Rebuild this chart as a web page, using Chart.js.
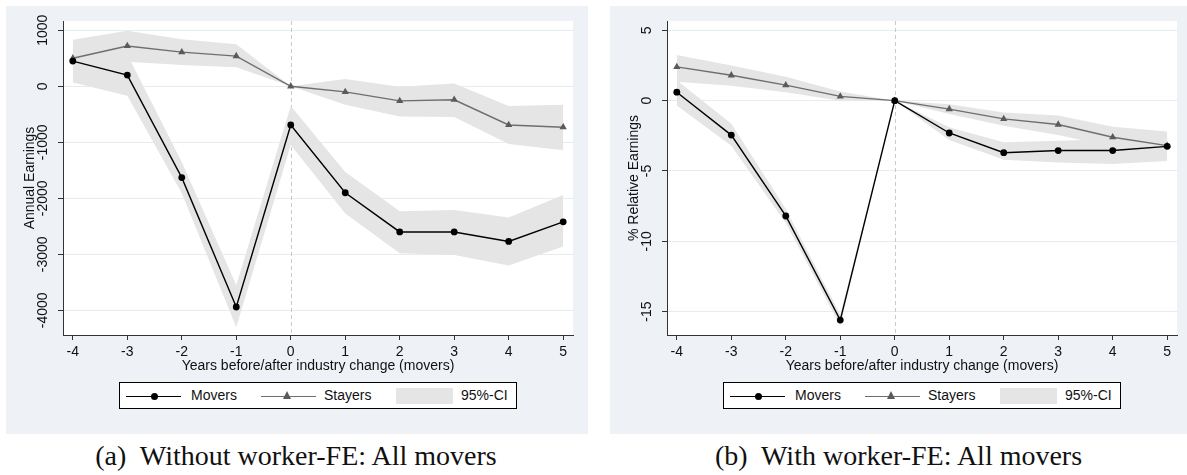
<!DOCTYPE html>
<html><head><meta charset="utf-8">
<script src="https://cdn.jsdelivr.net/npm/chart.js@4.4.1/dist/chart.umd.min.js"></script>
<style>
body{margin:0;background:#fff;width:1187px;height:475px;overflow:hidden;position:relative;font-family:"Liberation Sans",Arial,sans-serif;}
.panel{position:absolute;top:6px;height:428px;background:#eef1f6;}
.panel canvas{position:absolute;left:0;top:0;}
.legend{position:absolute;left:113px;top:376px;width:398px;height:27px;box-sizing:border-box;background:#fff;border:1px solid #000;font-size:14px;color:#111;}
.legend .ln{position:absolute;height:0;top:13px;}
.legend .txt{position:absolute;top:0;line-height:25px;white-space:nowrap;}
.legend .dot{position:absolute;width:7px;height:7px;border-radius:50%;background:#000;top:10px;}
.legend .tri{position:absolute;width:0;height:0;border-left:4.5px solid transparent;border-right:4.5px solid transparent;border-bottom:8px solid #5a5a5a;top:8px;}
.legend .ci{position:absolute;left:276px;top:5px;width:57px;height:16px;background:#e5e5e5;}
.caption{position:absolute;top:436px;height:40px;line-height:40px;text-align:center;font-family:"Liberation Serif","DejaVu Serif",serif;font-size:28px;color:#111;white-space:pre;}
</style>
</head><body>

<div class="panel" style="left:6px;width:582px;">
  <canvas id="c1" width="582" height="428"></canvas>
  <div class="legend">
    <div class="ln" style="left:6px;width:55px;border-top:1.5px solid #000;"></div>
    <div class="dot" style="left:31px;"></div>
    <div class="txt" style="left:71px;">Movers</div>
    <div class="ln" style="left:141px;width:55px;border-top:1.5px solid #6e6e6e;"></div>
    <div class="tri" style="left:163px;"></div>
    <div class="txt" style="left:204px;">Stayers</div>
    <div class="ci"></div>
    <div class="txt" style="left:341px;">95%-CI</div>
  </div>
</div>

<div class="panel" style="left:610px;width:577px;">
  <canvas id="c2" width="577" height="428"></canvas>
  <div class="legend">
    <div class="ln" style="left:6px;width:55px;border-top:1.5px solid #000;"></div>
    <div class="dot" style="left:31px;"></div>
    <div class="txt" style="left:71px;">Movers</div>
    <div class="ln" style="left:141px;width:55px;border-top:1.5px solid #6e6e6e;"></div>
    <div class="tri" style="left:163px;"></div>
    <div class="txt" style="left:204px;">Stayers</div>
    <div class="ci"></div>
    <div class="txt" style="left:341px;">95%-CI</div>
  </div>
</div>

<div class="caption" style="left:0;width:592px;">(a)  Without worker-FE: All movers</div>
<div class="caption" style="left:610px;width:577px;">(b)  With worker-FE: All movers</div>

<script>
// ---- data ----
const years = [-4, -3, -2, -1, 0, 1, 2, 3, 4, 5];
const xTicks = [-4, -3, -2, -1, 0, 1, 2, 3, 4, 5];

// Panel (a): Annual Earnings, without worker-FE
const aMovers   = [450, 200, -1630, -3940, -690, -1900, -2600, -2600, -2770, -2420];
const aMoversLo = [70, -170, -1910, -4300, -1050, -2270, -2980, -3010, -3200, -2860];
const aMoversHi = [830, 570, -1350, -3550, -350, -1530, -2230, -2210, -2340, -1940];
const aStayers   = [500, 720, 610, 540, 0, -100, -260, -240, -690, -730];
const aStayersLo = [180, 440, 380, 340, 0, -330, -540, -550, -1030, -1140];
const aStayersHi = [830, 990, 840, 750, 0, 130, -10, 50, -350, -330];
const aYTicks = [-4000, -3000, -2000, -1000, 0, 1000];

// Panel (b): % Relative Earnings, with worker-FE
const bMovers   = [0.6, -2.45, -8.2, -15.6, 0, -2.3, -3.7, -3.55, -3.55, -3.25];
const bMoversLo = [-0.35, -3.2, -8.7, -16.0, 0, -2.8, -4.2, -4.4, -4.5, -4.3];
const bMoversHi = [1.45, -1.65, -7.7, -15.2, 0, -1.9, -2.95, -2.85, -2.75, -2.3];
const bStayers   = [2.4, 1.8, 1.1, 0.3, 0, -0.6, -1.3, -1.7, -2.6, -3.2];
const bStayersLo = [1.35, 1.05, 0.6, 0.0, 0, -0.95, -1.78, -2.45, -3.3, -4.0];
const bStayersHi = [3.25, 2.5, 1.7, 0.65, 0, -0.25, -0.85, -1.05, -1.85, -2.2];
const bYTicks = [-15, -10, -5, 0, 5];

const FONT = '"Liberation Sans", Arial, sans-serif';
const pts = ys => years.map((x, i) => ({x: x, y: ys[i]}));

const decor = {
  id: 'decor',
  beforeDraw(chart) {
    const a = chart.chartArea, c = chart.ctx;
    c.save(); c.fillStyle = '#fff';
    c.fillRect(a.left, a.top, a.right - a.left, a.bottom - a.top);
    c.restore();
  },
  beforeDatasetsDraw(chart) {
    const a = chart.chartArea, c = chart.ctx;
    const x0 = Math.round(chart.scales.x.getPixelForValue(0)) + 0.5;
    c.save(); c.strokeStyle = '#cacaca'; c.lineWidth = 1; c.setLineDash([4, 3]);
    c.beginPath(); c.moveTo(x0, a.top); c.lineTo(x0, a.bottom); c.stroke();
    c.restore();
  },
  afterDraw(chart, args, o) {
    const a = chart.chartArea, c = chart.ctx, ys = chart.scales.y;
    c.save();
    c.fillStyle = '#111'; c.font = '14px ' + FONT;
    c.textAlign = 'center'; c.textBaseline = 'middle';
    ys.ticks.forEach(t => {
      const y = ys.getPixelForValue(t.value);
      c.save(); c.translate(a.left - 19.5, y); c.rotate(-Math.PI / 2);
      c.fillText(String(t.value), 0, 0); c.restore();
    });
    c.save(); c.translate(a.left - 32.5, (a.top + a.bottom) / 2); c.rotate(-Math.PI / 2);
    c.fillText(o.yTitle, 0, 0); c.restore();
    c.fillText(o.xTitle, (a.left + a.right) / 2, a.bottom + 31);
    c.restore();
  }
};

function makeChart(id, movers, mLo, mHi, stayers, sLo, sHi, yTicks, yMin, yMax, rightPad, yTitle) {
  const H = 428;
  return new Chart(document.getElementById(id), {
    type: 'line',
    data: {
      datasets: [
        {data: pts(movers), borderColor: '#000', borderWidth: 1.4, pointStyle: 'circle', pointRadius: 3.4,
         pointBackgroundColor: '#000', pointBorderWidth: 0, fill: false, tension: 0},
        {data: pts(stayers), borderColor: '#6e6e6e', borderWidth: 1.4, pointStyle: 'triangle', pointRadius: 4.2,
         pointBackgroundColor: '#5a5a5a', pointBorderWidth: 0, fill: false, tension: 0},
        {data: pts(mHi), borderWidth: 0, pointRadius: 0, backgroundColor: '#e5e5e5', fill: '+1', tension: 0},
        {data: pts(mLo), borderWidth: 0, pointRadius: 0, fill: false, tension: 0},
        {data: pts(sHi), borderWidth: 0, pointRadius: 0, backgroundColor: '#e5e5e5', fill: '+1', tension: 0},
        {data: pts(sLo), borderWidth: 0, pointRadius: 0, fill: false, tension: 0}
      ]
    },
    options: {
      responsive: false, animation: false, events: [],
      layout: {padding: {left: 0, top: 15, right: rightPad, bottom: 0}},
      plugins: {legend: {display: false}, tooltip: {enabled: false},
        decor: {yTitle: yTitle, xTitle: 'Years before/after industry change (movers)'}},
      scales: {
        x: {type: 'linear', min: -4.18, max: 5.18,
            afterBuildTicks: s => { s.ticks = xTicks.map(v => ({value: v})); },
            afterFit: s => { s.height = H - 329; },
            grid: {drawOnChartArea: false, tickLength: 5, tickColor: '#333'},
            border: {color: '#333', width: 1},
            ticks: {font: {size: 14, family: FONT}, color: '#111', padding: 4, maxRotation: 0,
                    autoSkip: false, callback: v => String(v)}},
        y: {type: 'linear', min: yMin, max: yMax,
            afterBuildTicks: s => { s.ticks = yTicks.map(v => ({value: v})); },
            afterFit: s => { s.width = 57; },
            grid: {color: '#e6ecf3', tickLength: 5, tickColor: '#333', lineWidth: 1},
            border: {color: '#333', width: 1},
            ticks: {display: false}}
      }
    },
    plugins: [decor]
  });
}

makeChart('c1', aMovers, aMoversLo, aMoversHi, aStayers, aStayersLo, aStayersHi, aYTicks, -4440, 1166, 15, 'Annual Earnings');
makeChart('c2', bMovers, bMoversLo, bMoversHi, bStayers, bStayersLo, bStayersHi, bYTicks, -16.66, 5.66, 10, '% Relative Earnings');
</script>
</body></html>
